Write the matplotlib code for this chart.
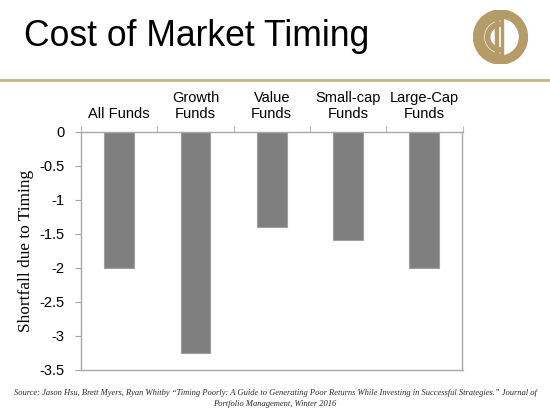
import matplotlib.pyplot as plt
from matplotlib.patches import Wedge, Rectangle

# data
categories = ['All Funds', 'Growth\nFunds', 'Value\nFunds', 'Small-cap\nFunds', 'Large-Cap\nFunds']
shortfall = [-2.0, -3.25, -1.4, -1.6, -2.0]
yticks = [0, -0.5, -1, -1.5, -2, -2.5, -3, -3.5]
ytick_labels = ['0', '-0.5', '-1', '-1.5', '-2', '-2.5', '-3', '-3.5']

gold = '#B59B68'
frame = '#A8A8A8'

fig = plt.figure(figsize=(5.5, 4.19), dpi=100)
fig.patch.set_facecolor('white')

# title + rule
fig.text(24 / 550, 1 - 46 / 419, 'Cost of Market Timing', fontsize=25.6,
         family='Liberation Sans', va='baseline', ha='left')
fig.add_artist(plt.Line2D([0, 1], [1 - 80 / 419, 1 - 80 / 419], color='#C8B38C', lw=2))

# logo
lg = fig.add_axes([473 / 550, 1 - 64 / 419, 55 / 550, 54 / 419])
lg.set_xlim(-27.5, 27.5)
lg.set_ylim(-27, 27)
lg.set_aspect('equal')
lg.axis('off')
lg.add_patch(Wedge((0, 0), 27, 90, 270, width=10, color=gold))
lg.add_patch(Wedge((0, 0), 27, -90, 90, width=8, color=gold))
lg.add_patch(Wedge((0, 0), 15, 90, 270, width=4.3, color=gold))
lg.add_patch(Rectangle((-5.5, -26.2), 3.3, 52.4, color=gold))
lg.add_patch(Rectangle((0.2, -26.8), 2.6, 53.6, color=gold))

# bars
ax = fig.add_axes([81 / 550, 1 - 369.5 / 419, 381.5 / 550, 237.8 / 419])
x = range(len(categories))
ax.bar(x, shortfall, width=0.39, color='#7F7F7F', edgecolor='#A0A0A0', linewidth=0.8, zorder=2)
ax.set_xlim(-0.5, 4.5)
ax.set_ylim(-3.5, 0)

ax.set_yticks(yticks)
ax.set_yticklabels(ytick_labels, family='Liberation Sans', fontsize=10.5)
ax.tick_params(axis='y', direction='out', length=4, color=frame, pad=8)

ax.xaxis.tick_top()
ax.set_xticks(list(x))
ax.set_xticklabels(categories, family='Liberation Sans', fontsize=10.5, linespacing=1.15)
ax.set_xticks([i - 0.5 for i in range(len(categories) + 1)], minor=True)
ax.tick_params(axis='x', which='major', length=0, pad=8)
ax.tick_params(axis='x', which='minor', length=4, color=frame, direction='out')

for s in ax.spines.values():
    s.set_color(frame)
    s.set_linewidth(1)

ax.set_ylabel('Shortfall due to Timing', family='Liberation Serif', fontsize=12.4, labelpad=4)

# source
fig.text(0.5, 1 - 393 / 419,
         'Source: Jason Hsu, Brett Myers, Ryan Whitby \u201cTiming Poorly: A Guide to Generating Poor Returns While Investing in Successful Strategies.\u201d Journal of',
         ha='center', va='center', fontsize=6.1, style='italic', family='Liberation Serif', color='#2a2a2a')
fig.text(0.5, 1 - 404 / 419, 'Portfolio Management, Winter 2016',
         ha='center', va='center', fontsize=6.1, style='italic', family='Liberation Serif', color='#2a2a2a')

fig.savefig('out.png', dpi=100)
